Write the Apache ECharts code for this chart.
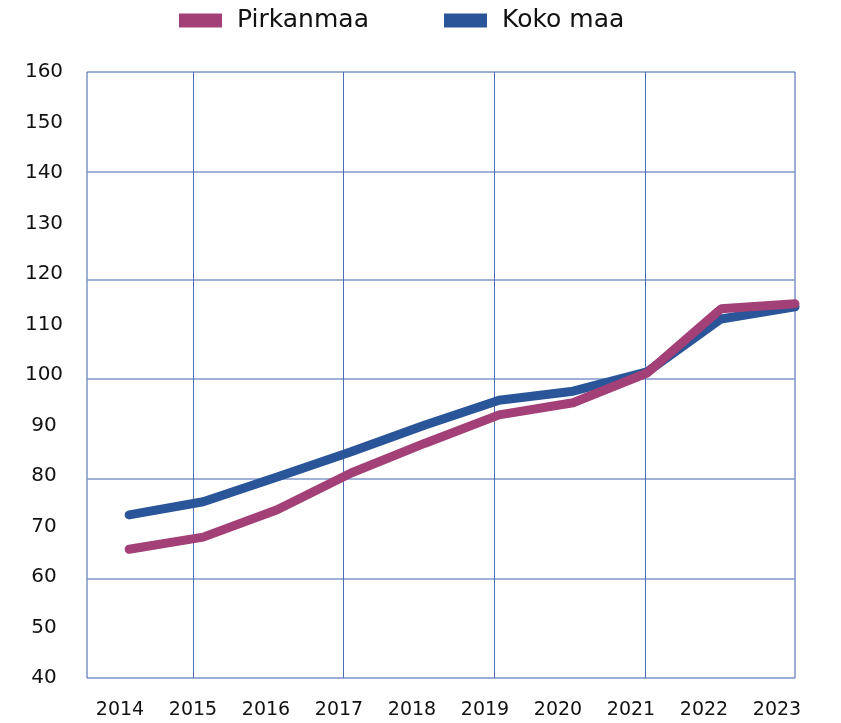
<!DOCTYPE html>
<html>
<head>
<meta charset="utf-8">
<script src="https://cdn.jsdelivr.net/npm/echarts@6/dist/echarts.min.js"></script>
<style>
    html, body { margin: 0; padding: 0; background: #fff; }
    #chart { width: 841px; height: 723px; }
</style>
</head>
<body>
<div id="chart"></div>
<script>
// data
var years = [2014, 2015, 2016, 2017, 2018, 2019, 2020, 2021, 2022, 2023];
var pirkanmaa = [65.5, 67.9, 73.3, 80.6, 86.5, 92.1, 94.5, 100.4, 113.1, 114.1];
var kokoMaa = [72.3, 74.9, 79.8, 84.8, 90.1, 95.0, 96.8, 100.6, 111.1, 113.5];

// grid lines sit a bit off the ticks in the original
var vGrid = [2014.86, 2016.9, 2018.94, 2020.97];
var hGrid = [59.6, 79.4, 99.2, 118.8, 140.2];

var FONT = 'DejaVu Sans';
var BORDER = '#3A5FAB';

function pairs(vals) {
    return years.map(function (y, i) { return [y, vals[i]]; });
}

var chart = echarts.init(document.getElementById('chart'));

var legendBase = {
    top: 8,
    padding: 0,
    icon: 'rect', itemWidth: 43, itemHeight: 14,
    textStyle: { fontFamily: FONT, fontSize: 25, color: '#111', padding: [0, 0, 0, 10] }
};

var option = {
    backgroundColor: '#fff',
    animation: false,
    textStyle: { fontFamily: FONT },
    legend: [
        Object.assign({ left: 179, data: ['Pirkanmaa'] }, legendBase),
        Object.assign({ left: 444, data: ['Koko maa'] }, legendBase)
    ],
    grid: {
        left: 87, right: 46, top: 72, bottom: 45,
        show: true,
        borderColor: BORDER,
        borderWidth: 1
    },
    xAxis: [
        {
            type: 'value',
            min: 2013.43, max: 2023,
            axisLine: { show: false },
            axisTick: { show: false, customValues: vGrid },
            axisLabel: { show: false },
            splitLine: { show: true, lineStyle: { color: '#4A6DB4', width: 1 } }
        },
        {
            // labels only, slightly narrower spacing than the data
            type: 'value',
            position: 'bottom',
            min: 2013.548, max: 2023.247,
            axisLine: { show: false },
            axisTick: { show: false },
            splitLine: { show: false },
            axisLabel: {
                customValues: years,
                margin: 23,
                fontFamily: FONT, fontSize: 19, color: '#111',
                formatter: function (v) { return String(v); }
            }
        }
    ],
    yAxis: [
        {
            type: 'value',
            min: 40, max: 160, interval: 10,
            axisLine: { show: false },
            axisTick: { show: false },
            splitLine: { show: false },
            axisLabel: {
                align: 'center',
                margin: 43,
                fontFamily: FONT, fontSize: 20, color: '#111'
            }
        },
        {
            type: 'value',
            position: 'left',
            min: 40, max: 160,
            axisLine: { show: false },
            axisTick: { show: false, customValues: hGrid },
            axisLabel: { show: false },
            splitLine: { show: true, lineStyle: { color: '#7F97CB', width: 1.5 } }
        }
    ],
    series: [
        {
            name: 'Koko maa',
            type: 'line',
            data: pairs(kokoMaa),
            showSymbol: false,
            clip: false,
            color: '#2B5599',
            lineStyle: { width: 9, cap: 'round', join: 'bevel' }
        },
        {
            name: 'Pirkanmaa',
            type: 'line',
            data: pairs(pirkanmaa),
            showSymbol: false,
            clip: false,
            color: '#A24077',
            lineStyle: { width: 9, cap: 'round', join: 'bevel' }
        }
    ]
};

chart.setOption(option);
</script>
</body>
</html>
